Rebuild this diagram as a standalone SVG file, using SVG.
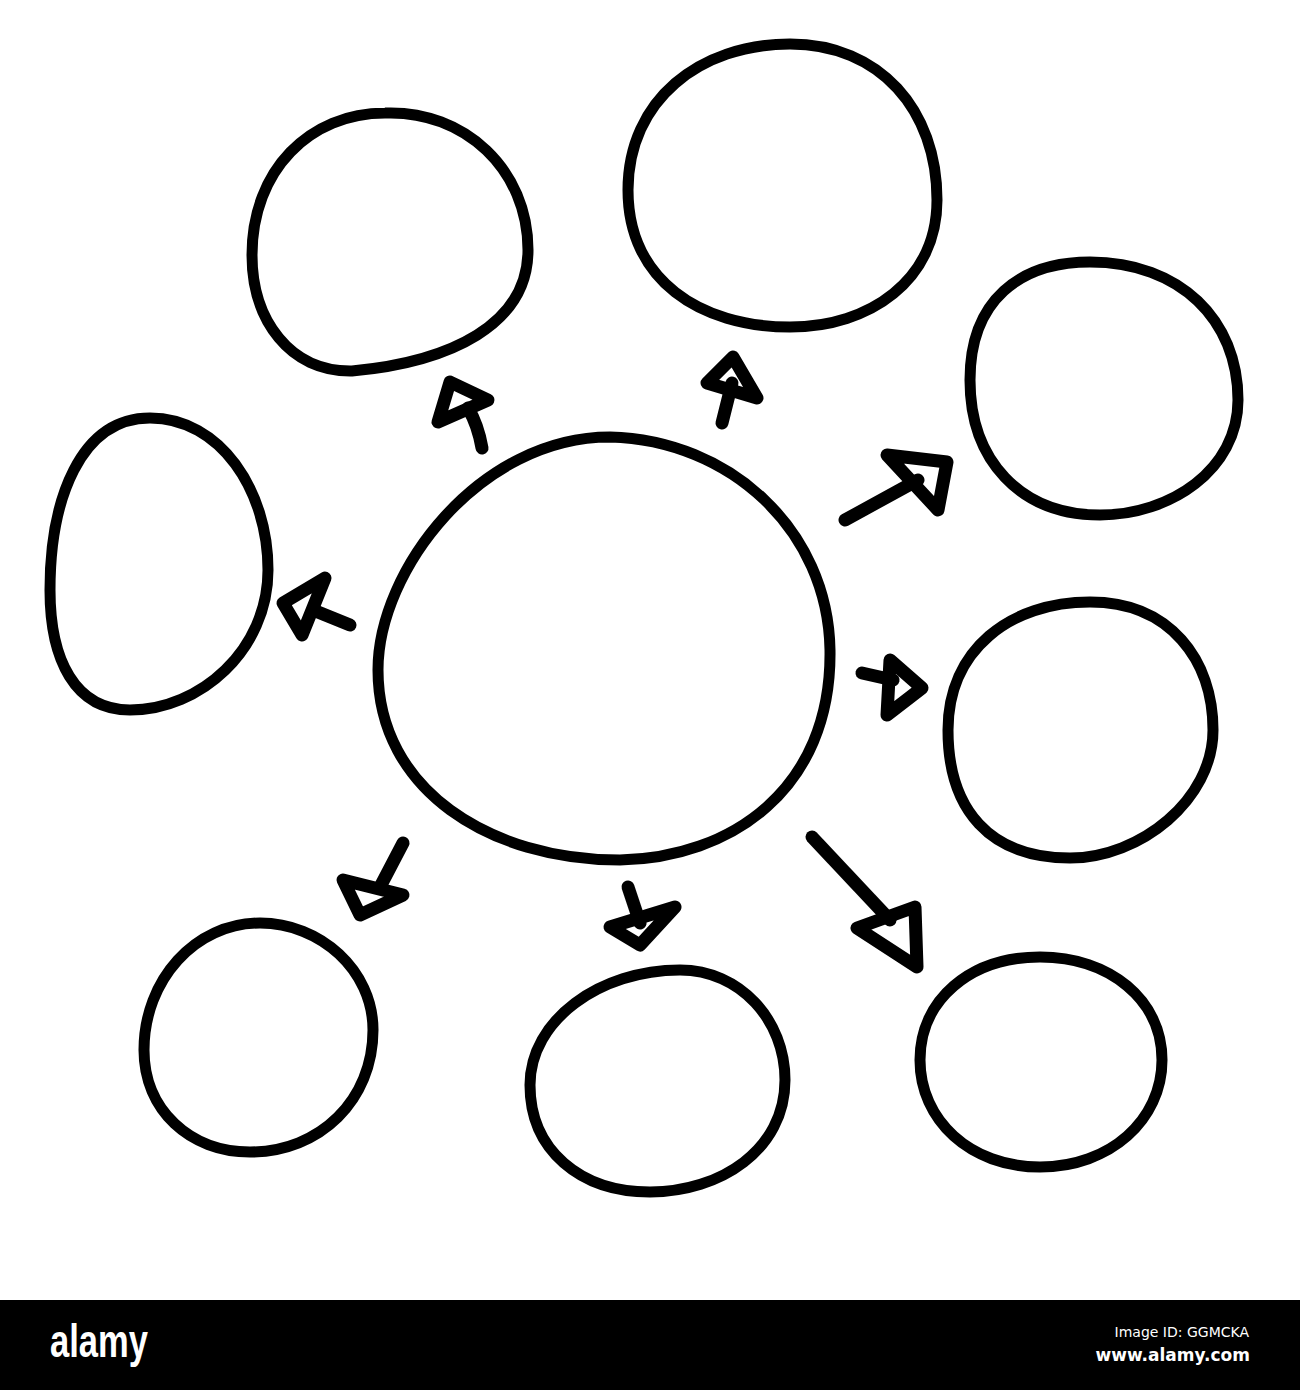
<svg xmlns="http://www.w3.org/2000/svg" width="1300" height="1390" viewBox="0 0 1300 1390">
<style>
.n{fill:none;stroke:#000;stroke-width:11;stroke-linecap:round;stroke-linejoin:round}
.a{fill:none;stroke:#000;stroke-width:13;stroke-linecap:round;stroke-linejoin:round}
.logo{font-family:"Liberation Sans",Arial,sans-serif;font-weight:bold;fill:#fff}
.id{font-family:"DejaVu Sans","Noto Sans",sans-serif;fill:#fff}
</style>
<rect width="1300" height="1390" fill="#fff"/>
<g id="center"><path class="n" d="M610,437 C730,440 828,530 830,650 C832,790 730,858 620,860 C490,860 378,790 378,670 C378,570 480,437 610,437 Z"/></g>
<g id="node-top-left"><path class="n" d="M385,113 C465,110 528,170 528,250 C528,325 450,362 352,371 C290,372 252,320 252,255 C252,170 310,113 385,113 Z"/></g>
<g id="node-top-middle"><path class="n" d="M790,44 C880,44 937,110 937,200 C937,280 870,327 790,327 C700,327 628,280 628,190 C628,100 700,44 790,44 Z"/></g>
<g id="node-right-top"><path class="n" d="M1090,262 C1180,262 1238,320 1238,400 C1238,470 1170,515 1100,515 C1020,515 970,460 970,380 C970,300 1020,262 1090,262 Z"/></g>
<g id="node-left"><path class="n" d="M150,418 C220,418 268,490 268,570 C268,650 200,710 130,710 C75,710 50,660 50,590 C50,500 80,418 150,418 Z"/></g>
<g id="node-right-middle"><path class="n" d="M1090,602 C1170,602 1213,660 1213,730 C1213,800 1140,858 1070,858 C990,858 948,810 948,730 C948,650 1010,602 1090,602 Z"/></g>
<g id="node-bottom-left"><path class="n" d="M260,923 C320,923 373,970 373,1030 C373,1100 320,1152 250,1152 C190,1152 144,1110 144,1050 C144,980 195,923 260,923 Z"/></g>
<g id="node-bottom-middle"><path class="n" d="M680,970 C740,970 785,1020 785,1080 C785,1150 720,1192 650,1192 C580,1192 530,1150 530,1085 C530,1020 600,970 680,970 Z"/></g>
<g id="node-bottom-right"><path class="n" d="M1040,957 C1110,957 1162,1000 1162,1060 C1162,1120 1110,1167 1040,1167 C970,1167 920,1120 920,1060 C920,1000 970,957 1040,957 Z"/></g>
<g id="connectors">
<path class="a" d="M482,448 Q478,425 468,408"/><polygon class="a" points="450,382 488,400 438,422"/>
<path class="a" d="M722,423 L732,383"/><polygon class="a" points="733,357 707,383 757,398"/>
<path class="a" d="M845,520 L918,480"/><polygon class="a" points="887,455 947,462 938,510"/>
<path class="a" d="M350,625 L313,610"/><polygon class="a" points="325,578 283,603 302,635"/>
<path class="a" d="M862,673 L893,680"/><polygon class="a" points="890,660 922,688 887,715"/>
<path class="a" d="M403,843 L380,887"/><polygon class="a" points="343,880 403,895 360,915"/>
<path class="a" d="M628,887 L640,923"/><polygon class="a" points="610,927 675,907 640,945"/>
<path class="a" d="M812,837 L890,920"/><polygon class="a" points="915,907 857,928 917,967"/>
</g>
<g id="footer">
<rect x="0" y="1300" width="1300" height="90" fill="#000"/>
<text class="logo" x="50" y="1357" font-size="46" textLength="98" lengthAdjust="spacingAndGlyphs">alamy</text>
<text class="id" x="1249" y="1337" font-size="14" text-anchor="end">Image ID: GGMCKA</text>
<text class="id" x="1250" y="1361" font-size="17" font-weight="bold" text-anchor="end">www.alamy.com</text>
</g>
</svg>
